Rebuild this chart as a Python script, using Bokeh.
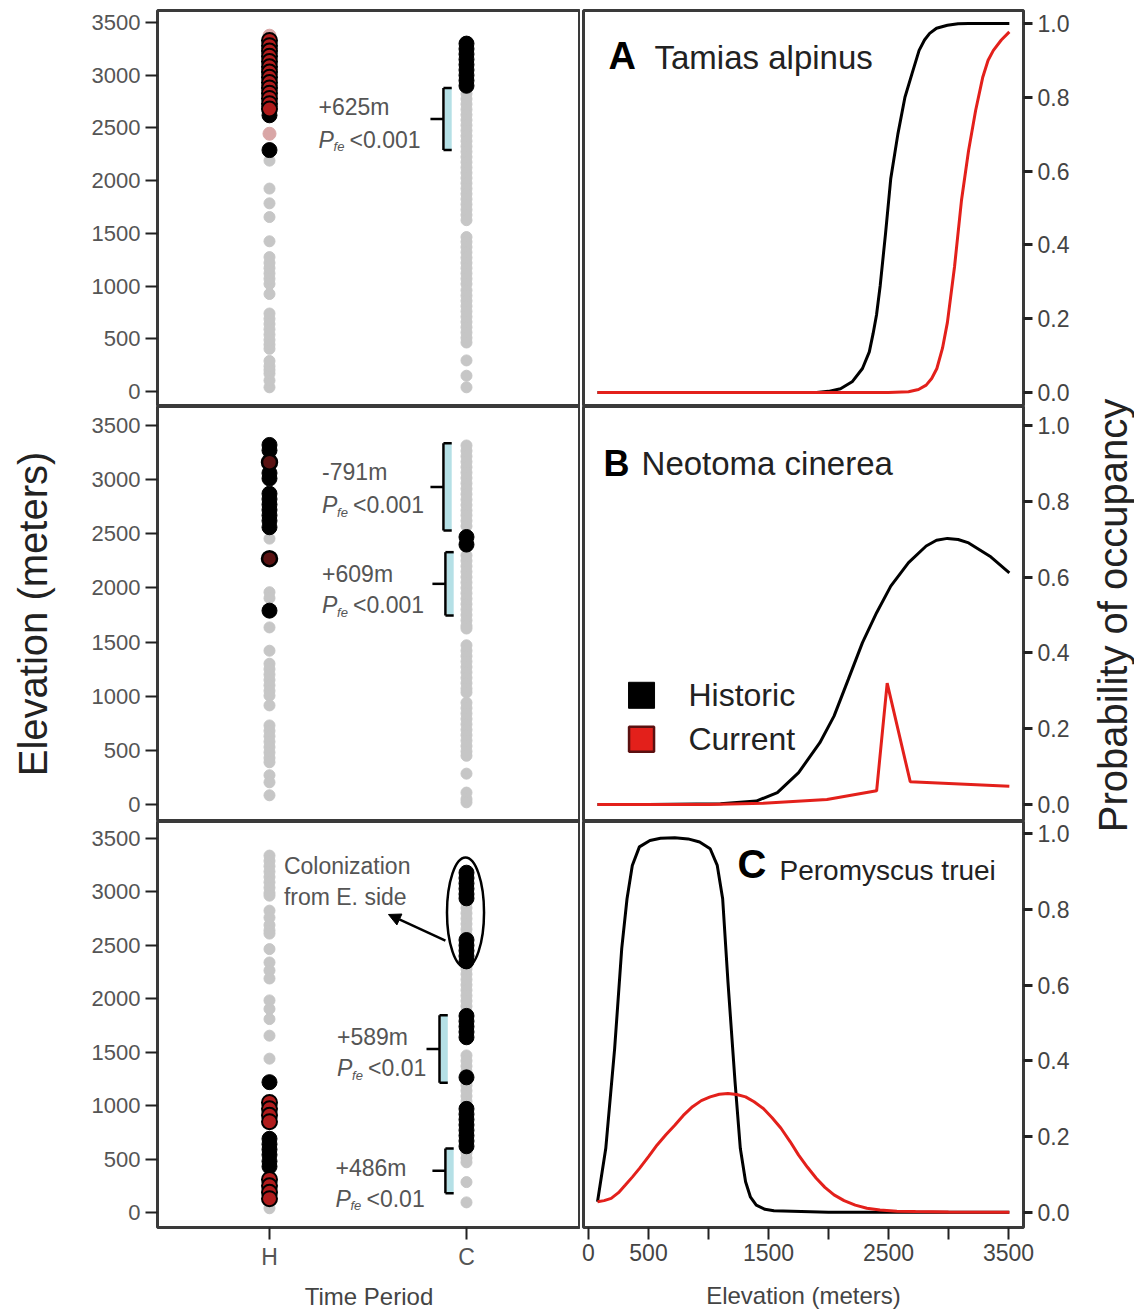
import math
from bokeh.plotting import figure
from bokeh.layouts import row, column
from bokeh.models import Range1d, FixedTicker, PrintfTickFormatter, Arrow, NormalHead
from bokeh.core.properties import value
from bokeh.embed import file_html
from bokeh.resources import INLINE

FONT = "Liberation Sans"

# ---------------- data ----------------
ELEV_TICKS = [0, 500, 1000, 1500, 2000, 2500, 3000, 3500]
PROB_TICKS = [0.0, 0.2, 0.4, 0.6, 0.8, 1.0]
PERIOD_LABELS = {1: "H", 2: "C"}
ELEV_X_LABELS = {0: "0", 500: "500", 1000: "", 1500: "1500", 2000: "", 2500: "2500", 3000: "", 3500: "3500"}

# Panel A  Tamias alpinus (left: sites by period)
ta_H_absent = [40, 105, 170, 205, 240, 290, 405, 445, 490, 540, 590, 640, 690, 740, 925, 1020, 1070,
               1120, 1170, 1220, 1275, 1425, 1655, 1785, 1925, 2190]
ta_H_faint = [2445, 3375]
ta_H_red = [3330, 3280, 3230, 3180, 3130, 3080, 3030, 2980, 2930, 2880, 2830, 2780, 2730, 2680]
ta_H_present = [2620, 2290]
ta_C_absent = [2825, 2775, 2725, 2675, 2625, 2575, 2525, 2475, 2425, 2375, 2325, 2275, 2225, 2175, 2125,
               2075, 2025, 1975, 1925, 1875, 1825, 1775, 1725, 1675, 1625, 1465, 1420, 1370, 1320, 1270,
               1220, 1170, 1120, 1070, 1020, 960, 910, 860, 810, 760, 710, 660, 610, 560, 510, 465, 295,
               150, 40]
ta_C_present = [3300, 3250, 3200, 3150, 3100, 3050, 3000, 2950, 2900]

# Panel B  Neotoma cinerea
nc_H_absent = [2455, 1960, 1905, 1635, 1420, 1300, 1250, 1200, 1150, 1100, 1050, 1005, 915, 730, 680,
               630, 580, 530, 480, 430, 390, 270, 205, 85]
nc_H_present = [3320, 3270, 3060, 3010, 2870, 2820, 2770, 2720, 2670, 2620, 2560, 1790]
nc_H_dark = [3160, 2270]
nc_C_absent = [3315, 3265, 3215, 3165, 3115, 3065, 3015, 2965, 2915, 2865, 2815, 2765, 2715, 2670, 2620,
               2570, 2300, 2250, 2200, 2150, 2100, 2050, 2000, 1950, 1900, 1850, 1800, 1750, 1700, 1650,
               1625, 1470, 1420, 1370, 1320, 1270, 1220, 1170, 1120, 1070, 1035, 940, 890, 840, 790, 740,
               690, 640, 590, 540, 490, 450, 285, 110, 50, 20]
nc_C_present = [2470, 2400]

# Panel C  Peromyscus truei
pt_H_absent = [3340, 3290, 3240, 3190, 3140, 3090, 3040, 2990, 2965, 2825, 2760, 2690, 2640, 2610, 2465,
               2340, 2265, 2190, 1985, 1905, 1810, 1655, 1440, 100, 40]
pt_H_present = [1220, 690, 640, 590, 540, 480, 430]
pt_H_red = [1030, 970, 910, 850, 310, 250, 190, 130]
pt_C_absent = [2900, 2850, 2800, 2750, 2700, 2650, 2600, 2280, 2230, 2180, 2130, 2080, 2030, 1980, 1930,
               1880, 1470, 1420, 1370, 1320, 1190, 1140, 1090, 1040, 1000, 560, 510, 470, 285, 95]
pt_C_present = [3180, 3130, 3080, 3030, 2980, 2940, 2550, 2500, 2450, 2400, 2350, 1840, 1790, 1740, 1690,
                1640, 1265, 970, 920, 870, 820, 770, 720, 670, 620]

# Elevational shifts (label, p-value, bracket low, bracket high)
shifts_A = [("+625m", "<0.001", 2290, 2880)]
shifts_B = [("-791m", "<0.001", 2530, 3335), ("+609m", "<0.001", 1745, 2330)]
shifts_C = [("+589m", "<0.01", 1215, 1845), ("+486m", "<0.01", 180, 600)]

# Occupancy curves (right panels)
ta_hist_elev = [75, 500, 1000, 1500, 1900, 2000, 2100, 2200, 2283, 2340, 2372, 2400, 2431, 2475, 2519,
                2578, 2637, 2696, 2755, 2800, 2843, 2900, 2991, 3080, 3167, 3507]
ta_hist_prob = [0, 0, 0, 0, 0, 0.003, 0.01, 0.03, 0.065, 0.11, 0.16, 0.21, 0.29, 0.43, 0.58, 0.70, 0.80,
                0.864, 0.927, 0.955, 0.973, 0.987, 0.995, 0.999, 1.0, 1.0]
ta_curr_elev = [75, 1000, 2000, 2500, 2667, 2750, 2814, 2860, 2903, 2950, 2991, 3050, 3108, 3167, 3226,
                3286, 3330, 3374, 3440, 3507]
ta_curr_prob = [0, 0, 0, 0, 0.002, 0.008, 0.02, 0.038, 0.065, 0.12, 0.19, 0.34, 0.52, 0.655, 0.764,
                0.855, 0.90, 0.927, 0.955, 0.977]
nc_hist_elev = [75, 500, 1100, 1398, 1574, 1751, 1928, 2046, 2165, 2283, 2401, 2519, 2667, 2814, 2900,
                2991, 3080, 3168, 3345, 3507]
nc_hist_prob = [0, 0, 0.002, 0.009, 0.031, 0.084, 0.163, 0.233, 0.33, 0.427, 0.506, 0.576, 0.638, 0.682,
                0.697, 0.702, 0.699, 0.69, 0.655, 0.611]
nc_curr_elev = [75, 1000, 1457, 1987, 2401, 2489, 2681, 3507]
nc_curr_prob = [0, 0, 0.003, 0.013, 0.036, 0.32, 0.06, 0.048]
pt_hist_elev = [75, 144, 218, 277, 321, 365, 424, 512, 600, 719, 830, 926, 1014, 1073, 1118, 1162, 1221,
                1265, 1309, 1350, 1398, 1470, 1545, 2000, 3507]
pt_hist_prob = [0.028, 0.169, 0.433, 0.697, 0.828, 0.916, 0.965, 0.982, 0.988, 0.989, 0.986, 0.978, 0.96,
                0.916, 0.828, 0.609, 0.345, 0.169, 0.081, 0.04, 0.019, 0.008, 0.004, 0, 0]
pt_curr_elev = [75, 130, 189, 250, 307, 365, 425, 500, 572, 645, 719, 790, 867, 940, 1014, 1090, 1162,
                1235, 1309, 1380, 1457, 1530, 1604, 1680, 1751, 1825, 1898, 1970, 2046, 2130, 2223, 2320,
                2429, 2570, 2725, 3000, 3507]
pt_curr_prob = [0.028, 0.031, 0.037, 0.052, 0.072, 0.093, 0.116, 0.147, 0.178, 0.205, 0.23, 0.256, 0.279,
                0.295, 0.305, 0.312, 0.314, 0.311, 0.305, 0.292, 0.274, 0.25, 0.222, 0.187, 0.151, 0.119,
                0.09, 0.066, 0.046, 0.031, 0.019, 0.011, 0.006, 0.003, 0.002, 0.001, 0]

# ---------------- styles ----------------
GRAY = "#c6c6c6"
RED = "#e3201b"
RED_FILL = "#b01c1c"
DARK_FILL = "#5a1212"
FAINT = "#d9a6a6"
CYAN = "#b5e0e6"
TXT = "#555555"
OUTLINE = "#3a3a3a"

LEFT_W, RIGHT_W = 423, 440
LB, RB = 157, 60
TOP_B, BOT_B = 10, 82
TITLE_W, TOTAL_H = 51, 1309


def style_common(f):
    f.grid.visible = False
    f.outline_line_color = OUTLINE
    f.outline_line_width = 3
    f.background_fill_color = "white"
    f.border_fill_color = "white"


def style_axis(ax, size, color):
    ax.major_label_text_font = FONT
    ax.major_label_text_font_size = size
    ax.major_label_text_color = color
    ax.major_tick_in = 0
    ax.major_tick_line_width = 2
    ax.major_tick_line_color = "#222222"
    ax.minor_tick_line_color = None
    ax.axis_line_color = None
    ax.axis_label_text_font = FONT
    ax.axis_label_text_font_style = "normal"


def left_fig(yr, frame_h, top, bottom, xaxis):
    f = figure(frame_width=LEFT_W, frame_height=frame_h,
               x_range=Range1d(0.4315, 2.5787), y_range=Range1d(*yr),
               x_axis_location="below" if xaxis else None,
               min_border_left=LB, min_border_right=0, min_border_top=top, min_border_bottom=bottom,
               toolbar_location=None, output_backend="svg")
    style_common(f)
    ya = f.yaxis[0]
    ya.ticker = FixedTicker(ticks=ELEV_TICKS)
    style_axis(ya, "22px", TXT)
    ya.major_tick_out = 12
    ya.major_label_standoff = 5
    if xaxis:
        xa = f.xaxis[0]
        xa.ticker = FixedTicker(ticks=[1, 2])
        xa.major_label_overrides = PERIOD_LABELS
        style_axis(xa, "23px", TXT)
        xa.major_tick_out = 12
        xa.major_label_standoff = 4
        xa.axis_label = "Time Period"
        xa.axis_label_text_font_size = "24px"
        xa.axis_label_text_color = "#444444"
        xa.axis_label_standoff = 10
    return f


def right_fig(yr, frame_h, top, bottom, xaxis):
    f = figure(frame_width=RIGHT_W, frame_height=frame_h,
               x_range=Range1d(-41.7, 3625), y_range=Range1d(*yr),
               x_axis_location="below" if xaxis else None, y_axis_location="right",
               min_border_left=3, min_border_right=RB, min_border_top=top, min_border_bottom=bottom,
               toolbar_location=None, output_backend="svg")
    style_common(f)
    ya = f.yaxis[0]
    ya.ticker = FixedTicker(ticks=PROB_TICKS)
    ya.formatter = PrintfTickFormatter(format="%.1f")
    style_axis(ya, "23px", "#444444")
    ya.major_tick_out = 9
    ya.major_tick_line_width = 3
    ya.major_label_standoff = 5
    if xaxis:
        xa = f.xaxis[0]
        xa.ticker = FixedTicker(ticks=ELEV_TICKS)
        xa.major_label_overrides = ELEV_X_LABELS
        style_axis(xa, "23px", "#444444")
        xa.major_tick_out = 12
        xa.major_label_standoff = 4
        xa.axis_label = "Elevation (meters)"
        xa.axis_label_text_font_size = "24px"
        xa.axis_label_text_color = "#444444"
        xa.axis_label_standoff = 18
    return f


def txt(f, x, y, s, size, color=TXT, style="normal", x_off=0, y_off=0):
    f.text(x=[x], y=[y], text=[s], text_font=value(FONT), text_font_size=size, text_color=color,
           text_font_style=style, text_align="left", text_baseline="middle",
           x_offset=x_off, y_offset=y_off)


def pts(f, xval, elevs, kind):
    xs = [xval] * len(elevs)
    if kind == "absent":
        f.scatter(xs, elevs, size=11, fill_color=GRAY, line_color=GRAY)
    elif kind == "faint":
        f.scatter(xs, elevs, size=13, fill_color=FAINT, line_color=FAINT)
    elif kind == "present":
        f.scatter(xs, elevs, size=15, fill_color="black", line_color="black")
    elif kind == "red":
        f.scatter(xs, elevs, size=15, fill_color=RED_FILL, line_color="black", line_width=2)
    elif kind == "dark":
        f.scatter(xs, elevs, size=15, fill_color=DARK_FILL, line_color="black", line_width=2.5)


def bracket(f, lo, hi, x):
    mid = (lo + hi) / 2.0
    f.quad(left=[x + 0.006], right=[x + 0.042], bottom=[lo], top=[hi], fill_color=CYAN, line_color=None)
    f.segment(x0=[x, x, x, x - 0.066], y0=[lo, lo, hi, mid], x1=[x, x + 0.042, x + 0.042, x],
              y1=[hi, lo, hi, mid], line_color="black", line_width=2.5)


def shift_text(f, x, y_top, y_bot, label, pval):
    txt(f, x, y_top, label, "23px")
    txt(f, x, y_bot, "P", "23px", style="italic")
    txt(f, x, y_bot, "fe", "13px", style="italic", x_off=15, y_off=7)
    txt(f, x, y_bot, pval, "23px", x_off=31)


H, C = 1, 2

# ---------------- left panels ----------------
l1 = left_fig((-142, 3614), 396, TOP_B, 0, False)
pts(l1, H, ta_H_absent, "absent"); pts(l1, C, ta_C_absent, "absent")
pts(l1, H, ta_H_faint, "faint")
pts(l1, H, ta_H_present, "present"); pts(l1, C, ta_C_present, "present")
pts(l1, H, ta_H_red, "red")
bracket(l1, shifts_A[0][2], shifts_A[0][3], 1.883)
shift_text(l1, 1.249, 2694, 2390, shifts_A[0][0], shifts_A[0][1])

l2 = left_fig((-157, 3675), 415, 0, 0, False)
pts(l2, H, nc_H_absent, "absent"); pts(l2, C, nc_C_absent, "absent")
pts(l2, H, nc_H_present, "present"); pts(l2, C, nc_C_present, "present")
pts(l2, H, nc_H_dark, "dark")
bracket(l2, shifts_B[0][2], shifts_B[0][3], 1.883)
bracket(l2, shifts_B[1][2], shifts_B[1][3], 1.893)
shift_text(l2, 1.267, 3066, 2761, shifts_B[0][0], shifts_B[0][1])
shift_text(l2, 1.267, 2124, 1838, shifts_B[1][0], shifts_B[1][1])
l2.yaxis[0].axis_label = "Elevation (meters)"
l2.yaxis[0].axis_label_text_font_size = "40px"
l2.yaxis[0].axis_label_text_color = "#222222"
l2.yaxis[0].axis_label_standoff = 34

l3 = left_fig((-140, 3659), 406, 0, BOT_B, True)
pts(l3, H, pt_H_absent, "absent"); pts(l3, C, pt_C_absent, "absent")
pts(l3, H, pt_H_present, "present"); pts(l3, C, pt_C_present, "present")
pts(l3, H, pt_H_red, "red")
bracket(l3, shifts_C[0][2], shifts_C[0][3], 1.863)
bracket(l3, shifts_C[1][2], shifts_C[1][3], 1.893)
shift_text(l3, 1.343, 1647, 1348, shifts_C[0][0], shifts_C[0][1])
shift_text(l3, 1.335, 421, 131, shifts_C[1][0], shifts_C[1][1])
txt(l3, 1.073, 3247, "Colonization", "23px")
txt(l3, 1.073, 2948, "from E. side", "23px")
l3.ellipse(x=[1.995], y=[2807], width=[0.188], height=[1030], fill_color=None,
           line_color="black", line_width=2.5)
l3.add_layout(Arrow(end=NormalHead(size=12, fill_color="black", line_color="black"),
                    x_start=1.893, y_start=2545, x_end=1.604, y_end=2789,
                    line_color="black", line_width=2.5))

# ---------------- right panels ----------------
r1 = right_fig((-0.038, 1.035), 396, TOP_B, 0, False)
r1.line(ta_hist_elev, ta_hist_prob, line_color="black", line_width=3)
r1.line(ta_curr_elev, ta_curr_prob, line_color=RED, line_width=3)
txt(r1, 167, 0.911, "A", "38px", color="black", style="bold")
txt(r1, 550, 0.908, "Tamias alpinus", "33px", color="#222222")

r2 = right_fig((-0.045, 1.05), 415, 0, 0, False)
r2.line(nc_hist_elev, nc_hist_prob, line_color="black", line_width=3)
r2.line(nc_curr_elev, nc_curr_prob, line_color=RED, line_width=3)
txt(r2, 125, 0.90, "B", "36px", color="black", style="bold")
txt(r2, 442, 0.90, "Neotoma cinerea", "33px", color="#222222")
r2.scatter([442], [0.288], marker="square", size=26, fill_color="black", line_color="black")
r2.scatter([442], [0.172], marker="square", size=25, fill_color=RED, line_color="#5a1010", line_width=2.5)
txt(r2, 833, 0.288, "Historic", "32px", color="#222222")
txt(r2, 833, 0.172, "Current", "32px", color="#222222")

r3 = right_fig((-0.04, 1.032), 406, 0, BOT_B, True)
r3.line(pt_hist_elev, pt_hist_prob, line_color="black", line_width=3)
r3.line(pt_curr_elev, pt_curr_prob, line_color=RED, line_width=3)
txt(r3, 1242, 0.921, "C", "40px", color="black", style="bold")
txt(r3, 1592, 0.902, "Peromyscus truei", "28px", color="#222222")

# ---------------- shared right-hand axis title (reads bottom-to-top) ----------------
t = figure(frame_width=TITLE_W, frame_height=TOTAL_H, x_range=Range1d(0, TITLE_W),
           y_range=Range1d(0, TOTAL_H), x_axis_location=None, y_axis_location=None,
           min_border=0, toolbar_location=None, output_backend="svg")
t.grid.visible = False
t.outline_line_color = None
t.text(x=[29], y=[TOTAL_H - 615], text=["Probability of occupancy"], angle=math.pi / 2,
       text_font=value(FONT), text_font_size="40px", text_color="#222222",
       text_align="center", text_baseline="middle")

layout = row(column(l1, l2, l3), column(r1, r2, r3), t)
open("out.html", "w").write(file_html(layout, INLINE))
